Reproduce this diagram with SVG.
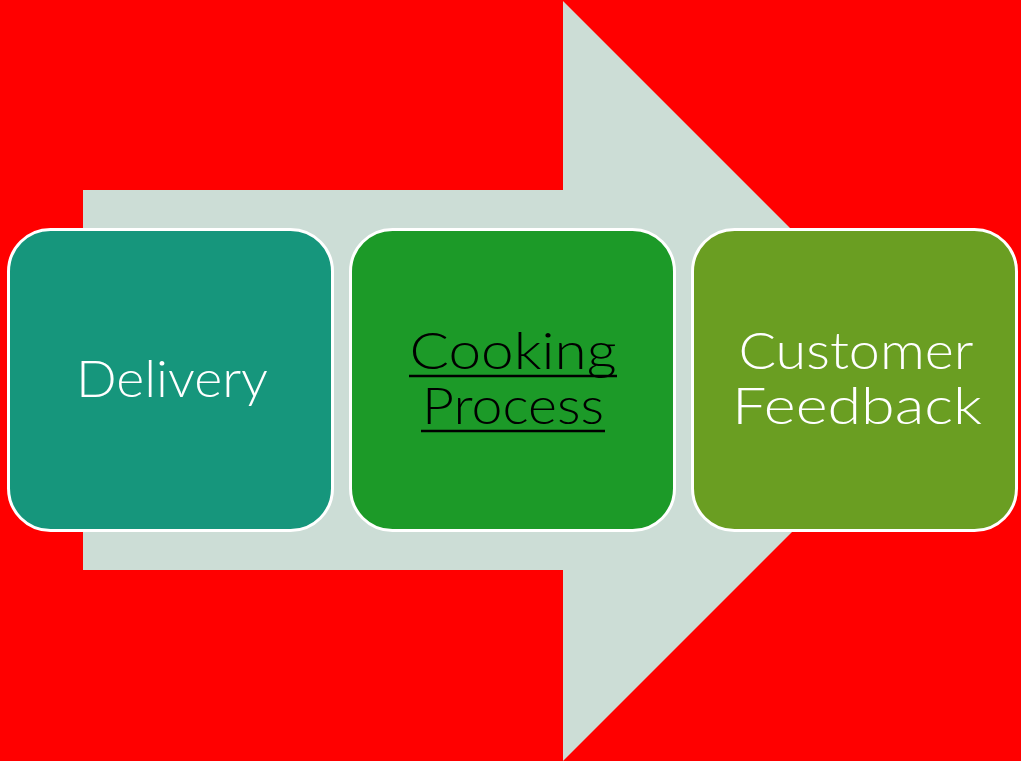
<svg xmlns="http://www.w3.org/2000/svg" width="1021" height="761" viewBox="0 0 1021 761">
  <style>
    .box { stroke: #FFFFFF; stroke-width: 3; }
    .label { font-family: "Lato", "Liberation Sans", sans-serif; font-size: 51px; font-weight: 300; text-anchor: middle; fill: #FFFFFF; }
    .link { fill: #000000; }
    .underline { stroke: #000000; stroke-width: 2.5; }
  </style>
  <!-- background -->
  <rect x="0" y="0" width="1021" height="761" fill="#FF0000"/>
  <!-- large process arrow behind the steps -->
  <g id="connectors">
    <polygon points="83,190 563,190 563,1 943,381 563,761 563,570 83,570" fill="#CCDDD6"/>
  </g>
  <g id="delivery">
    <rect class="box" x="8.5" y="229.5" width="324" height="301" rx="42" fill="#16967C"/>
    <text class="label" x="172" y="397" textLength="192" lengthAdjust="spacingAndGlyphs">Delivery</text>
  </g>
  <g id="cooking-process">
    <rect class="box" x="350.5" y="229.5" width="324" height="301" rx="42" fill="#1C9A28"/>
    <text class="label link" x="513" y="369" textLength="207" lengthAdjust="spacingAndGlyphs">Cooking</text>
    <text class="label link" x="513" y="424" textLength="182" lengthAdjust="spacingAndGlyphs">Process</text>
    <!-- hyperlink underlines spanning each line -->
    <line class="underline" x1="409" y1="376" x2="617" y2="376"/>
    <line class="underline" x1="421" y1="431" x2="605" y2="431"/>
  </g>
  <g id="customer-feedback">
    <rect class="box" x="692.5" y="229.5" width="324" height="301" rx="42" fill="#6A9E22"/>
    <text class="label" x="856" y="369" textLength="235" lengthAdjust="spacingAndGlyphs">Customer</text>
    <text class="label" x="857" y="424" textLength="250" lengthAdjust="spacingAndGlyphs">Feedback</text>
  </g>
</svg>
